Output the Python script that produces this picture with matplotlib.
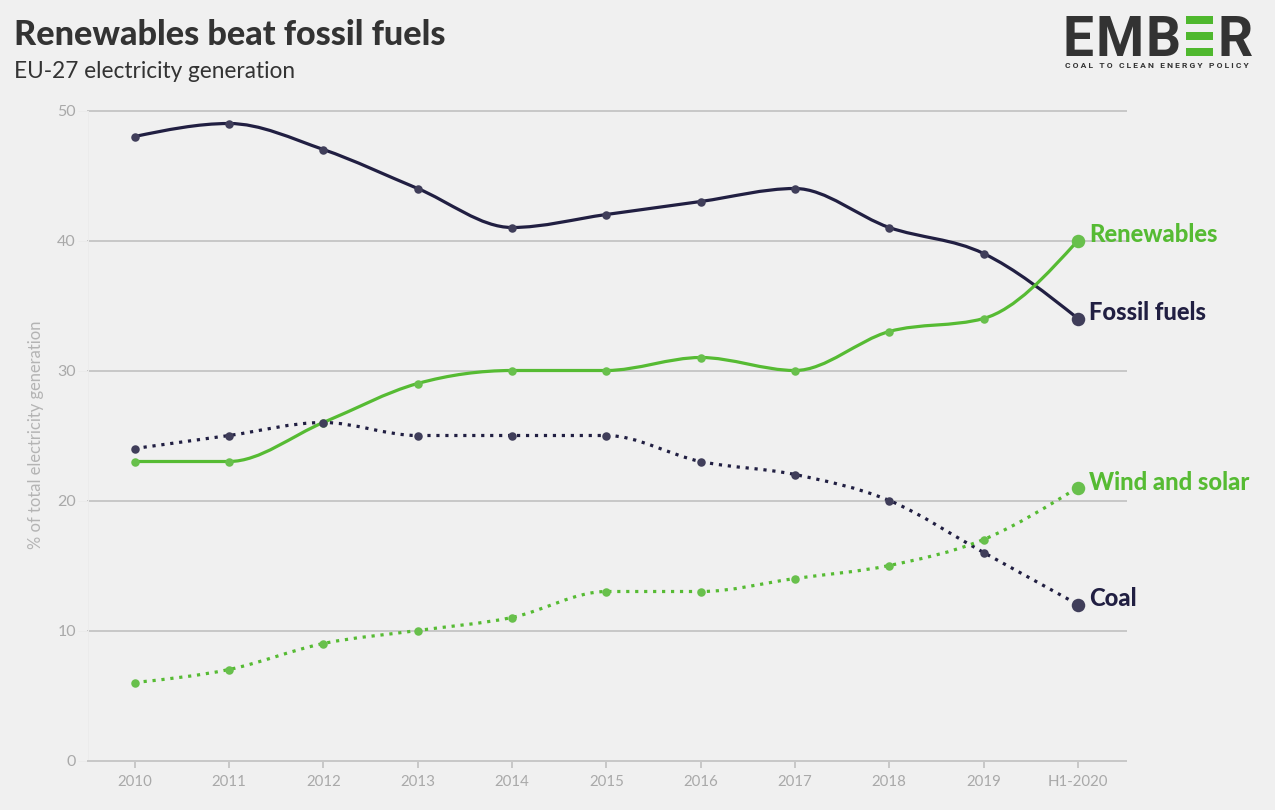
import numpy as np
import matplotlib.pyplot as plt
from matplotlib.path import Path
from matplotlib.patches import PathPatch, Rectangle

# ====================================
# Data
# ====================================
years = ["2010", "2011", "2012", "2013", "2014", "2015", "2016", "2017", "2018", "2019", "H1-2020"]
fossil = [48, 49, 47, 44, 41, 42, 43, 44, 41, 39, 34]
renewables = [23, 23, 26, 29, 30, 30, 31, 30, 33, 34, 40]
coal = [24, 25, 26, 25, 25, 25, 23, 22, 20, 16, 12]
wind_solar = [6, 7, 9, 10, 11, 13, 13, 14, 15, 17, 21]
yticks = [0, 10, 20, 30, 40, 50]

W, H = 1275, 810
BG = "#f0f0f0"
DARK = "#211f42"
DARK_DOT = "#403e5a"
GREEN = "#56bb33"
GREEN_DOT = "#68c04c"
GRID = "#c8c8c8"
TICK = "#a9a9a9"
INK = "#333333"

plt.rcParams["font.family"] = ["Lato", "DejaVu Sans"]


def px(size):
    return size * 0.72


def smooth_path(xs, ys):
    # monotone cubic between the points, written as bezier segments
    xs = np.asarray(xs, float)
    ys = np.asarray(ys, float)
    s = np.diff(ys) / np.diff(xs)
    m = np.zeros(len(xs))
    for i in range(1, len(xs) - 1):
        if s[i - 1] * s[i] > 0:
            m[i] = np.sign(s[i]) * min(2 * abs(s[i - 1]), 2 * abs(s[i]), 0.5 * abs(s[i - 1] + s[i]))
    m[0] = (3 * s[0] - m[1]) / 2
    m[-1] = (3 * s[-1] - m[-2]) / 2
    verts = [(xs[0], ys[0])]
    codes = [Path.MOVETO]
    for i in range(len(xs) - 1):
        h = (xs[i + 1] - xs[i]) / 3
        verts += [(xs[i] + h, ys[i] + m[i] * h), (xs[i + 1] - h, ys[i + 1] - m[i + 1] * h), (xs[i + 1], ys[i + 1])]
        codes += [Path.CURVE4, Path.CURVE4, Path.CURVE4]
    return Path(verts, codes)


fig = plt.figure(figsize=(W / 100, H / 100), dpi=100, facecolor=BG)
ax = fig.add_axes([88 / W, 1 - 760.5 / H, (1126 - 88) / W, 650 / H], facecolor=BG)
x = np.arange(len(years))

# ====================================
# Lines
# ====================================
series = [
    (fossil, DARK, DARK_DOT, False),
    (renewables, GREEN, GREEN_DOT, False),
    (coal, DARK, DARK_DOT, True),
    (wind_solar, GREEN, GREEN_DOT, True),
]
for values, line_col, dot_col, dotted in series:
    patch = PathPatch(smooth_path(x, values), fill=False, edgecolor=line_col, lw=px(3.2), zorder=3, capstyle="butt")
    if dotted:
        patch.set_linestyle((0, (1.0, 1.8)))
    ax.add_patch(patch)
    ax.scatter(x[:-1], values[:-1], s=px(8.5) ** 2, color=dot_col, linewidths=0, zorder=4)
    ax.scatter(x[-1:], values[-1:], s=px(13.5) ** 2, color=dot_col, linewidths=0, zorder=4)

# ====================================
# Axes
# ====================================
ax.set_xlim(-0.495, 10.51)
ax.set_ylim(0, 50)
ax.set_xticks(x)
ax.set_xticklabels(years)
ax.set_yticks(yticks)
ax.grid(axis="y", color=GRID, lw=px(2), zorder=1, clip_on=False)
ax.set_axisbelow(True)
for side in ["top", "right"]:
    ax.spines[side].set_visible(False)
ax.spines["left"].set_color("#ebebeb")
ax.spines["left"].set_linewidth(px(1))
ax.spines["bottom"].set_color(GRID)
ax.spines["bottom"].set_linewidth(px(2))
ax.tick_params(axis="x", length=px(7), width=px(2), color=GRID, labelcolor=TICK, labelsize=px(15), pad=px(7))
ax.tick_params(axis="y", length=px(10), width=px(1), color="#ebebeb", labelcolor=TICK, labelsize=px(16), pad=px(2))

fig.text(36 / W, 1 - 435 / H, "% of total electricity generation", rotation=90, ha="center", va="center",
         color="#b4b4b4", fontsize=px(16.5))

# ====================================
# Titles and end labels
# ====================================
fig.text(14 / W, 1 - 35 / H, "Renewables beat fossil fuels", ha="left", va="center", color=INK,
         fontsize=px(34.1), fontweight=900)
fig.text(14 / W, 1 - 71 / H, "EU-27 electricity generation", ha="left", va="center", color=INK, fontsize=px(22.6))

labels = [("Renewables", 235, GREEN), ("Fossil fuels", 313, DARK), ("Wind and solar", 482, GREEN), ("Coal", 599, DARK)]
for name, ypos, col in labels:
    fig.text(1089 / W, 1 - ypos / H, name, ha="left", va="center", color=col, fontsize=px(23.8), fontweight=900)

# ====================================
# Logo
# ====================================
logo_letters = [("E", 1078), ("M", 1120), ("B", 1163), ("R", 1235)]
for letter, xpos in logo_letters:
    fig.text(xpos / W, 1 - 56 / H, letter, ha="center", va="baseline", color=INK, fontsize=px(55), fontweight="bold",
             family="Roboto")
for top in [16, 32, 48]:
    fig.add_artist(Rectangle((1186 / W, 1 - (top + 7.5) / H), 27 / W, 7.5 / H, transform=fig.transFigure,
                             facecolor="#4fb82e", edgecolor="none"))
fig.text(1065 / W, 1 - 65 / H, "C O A L   T O   C L E A N   E N E R G Y   P O L I C Y", ha="left", va="center",
         color=INK, fontsize=px(8.5), fontweight="bold", family="Roboto")

fig.savefig("out.png", dpi=100, facecolor=BG)
